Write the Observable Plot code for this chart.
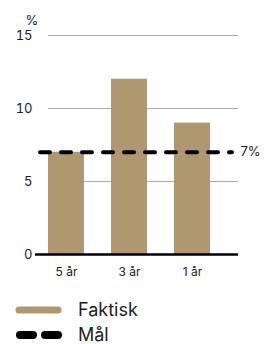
<!DOCTYPE html>
<html>
<head>
<meta charset="utf-8">
<script src="https://cdn.jsdelivr.net/npm/d3@7"></script>
<script src="https://cdn.jsdelivr.net/npm/@observablehq/plot@0.6"></script>
<style>
  html, body { margin: 0; padding: 0; background: #fff; }
  body { width: 271px; height: 344px; overflow: hidden; font-family: Inter, "Liberation Sans", Arial, sans-serif; color: #222; }
  .legend { position: relative; margin-top: 15px; }
  .row { display: flex; align-items: center; height: 25px; font-size: 18px; color: #222; }
  .row svg { margin-left: 12px; margin-right: 14px; }
</style>
</head>
<body>
<div id="chart"></div>
<div class="legend" id="legend"></div>
<script>
const categories = ["5 år", "3 år", "1 år"];
const actual = [7, 12, 9];
const target = 7;
const yTicks = [0, 5, 10, 15];
const seriesNames = ["Faktisk", "Mål"];
const colors = { actual: "#AF9770", target: "#000000" };

const data = categories.map((c, i) => ({ category: c, value: actual[i] }));

const chart = Plot.plot({
  width: 271,
  height: 282,
  marginTop: 35,
  marginBottom: 28,
  marginLeft: 48,
  marginRight: 33,
  style: { fontFamily: "Inter, Liberation Sans, Arial, sans-serif", color: "#222", background: "#fff" },
  x: { domain: categories, paddingInner: 0.433, paddingOuter: 0.2125, align: 0, label: null },
  y: { domain: [0, 15], ticks: yTicks, label: null },
  marks: [
    Plot.ruleY(yTicks.filter(t => t > 0), { stroke: "#aaa", strokeWidth: 1 }),
    Plot.barY(data, { x: "category", y: "value", fill: colors.actual }),
    Plot.ruleY([0], { stroke: "#000", strokeWidth: 2.5, insetLeft: -13 }),
    Plot.ruleY([target], { stroke: colors.target, strokeWidth: 4, strokeDasharray: "10,11", strokeLinecap: "round", insetLeft: -8, insetRight: 6 }),
    Plot.text([target], { y: d => d, frameAnchor: "right", text: d => d + "%", textAnchor: "start", dx: 2, fontSize: 13, fill: "#222" }),
    Plot.text(["%"], { frameAnchor: "top-left", text: d => d, dx: -23, dy: -20, fontSize: 13, fill: "#222" }),
    Plot.axisY({ ticks: yTicks, tickSize: 0, tickPadding: 16, fontSize: 13, label: null }),
    Plot.axisX({ tickSize: 0, tickPadding: 13, fontSize: 12, label: null })
  ]
});
document.getElementById("chart").appendChild(chart);

const legend = document.getElementById("legend");
legend.innerHTML = `
  <div class="row"><svg width="52" height="10"><line x1="7" y1="5" x2="46" y2="5" stroke="${colors.actual}" stroke-width="7" stroke-linecap="round"/></svg><span>${seriesNames[0]}</span></div>
  <div class="row"><svg width="52" height="10"><line x1="8" y1="5" x2="46" y2="5" stroke="${colors.target}" stroke-width="8" stroke-linecap="round" stroke-dasharray="13,12"/></svg><span>${seriesNames[1]}</span></div>
`;
</script>
</body>
</html>
